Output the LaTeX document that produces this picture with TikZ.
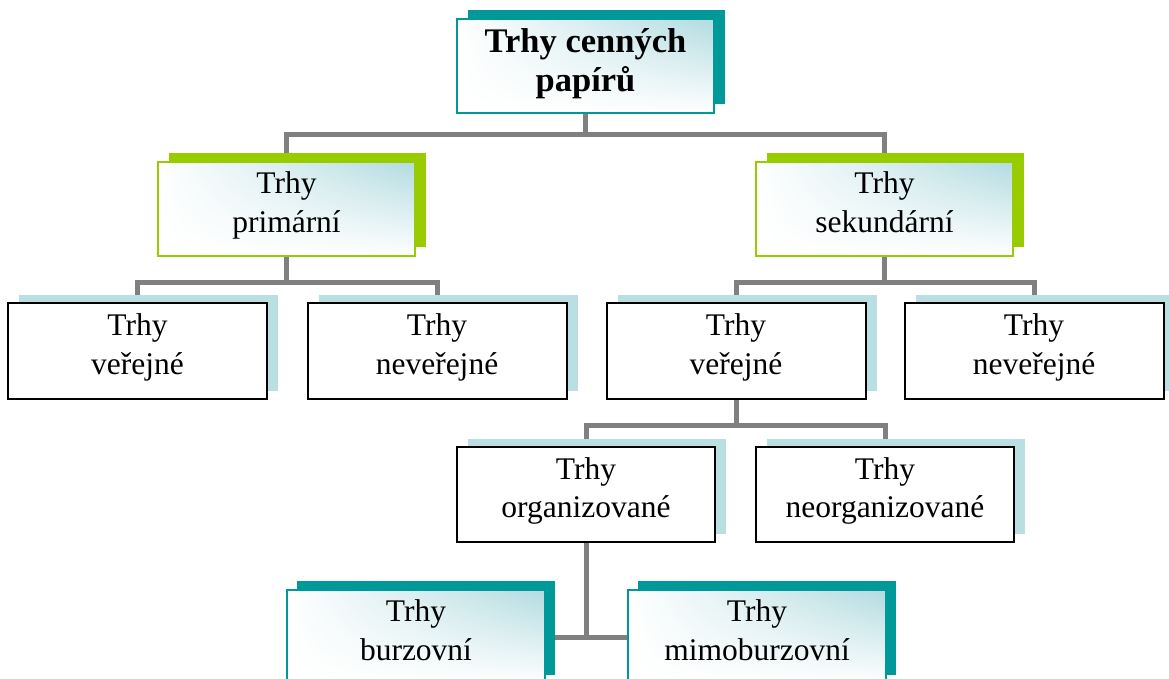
\documentclass[tikz,border=0pt]{standalone}
\usepackage{fontspec}
\setmainfont{Liberation Serif}
\usetikzlibrary{shadows,backgrounds,shadings}
\definecolor{tealsh}{HTML}{009999}
\definecolor{greensh}{HTML}{99CC00}
\definecolor{lbsh}{HTML}{B9DFE2}
\definecolor{lbgrad}{HTML}{B2DBE0}
\definecolor{conngray}{HTML}{808080}
\newlength\sth
\newlength\std
\newcommand\lnstrut{\rule[-\std]{0pt}{\dimexpr\sth+\std\relax}}
\tikzset{
  basebox/.style={rectangle, inner sep=0pt, align=center,
    minimum width=257pt, minimum height=94pt,
    font=\fontsize{31.5}{38.5}\selectfont,
    execute at begin node={\global\sth=23pt\global\std=15.5pt}},
  gradbox/.style={basebox, shade, upper right=lbgrad, upper left=white,
    lower left=white, lower right=white},
  titlebox/.style={gradbox, draw=tealsh, line width=1.5pt,
    general shadow={fill=tealsh, shadow xshift=11pt, shadow yshift=9pt},
    font=\fontsize{34.5}{39}\selectfont\bfseries,
    execute at begin node={\global\sth=26pt\global\std=13pt}},
  greenbox/.style={gradbox, draw=greensh, line width=1.5pt,
    general shadow={fill=greensh, shadow xshift=11pt, shadow yshift=9pt}},
  whitebox/.style={basebox, fill=white, draw=black, line width=2pt,
    minimum width=259pt, minimum height=96pt,
    general shadow={fill=lbsh, shadow xshift=11pt, shadow yshift=8pt}},
  tealbox/.style={gradbox, draw=tealsh, line width=1.5pt,
    general shadow={fill=tealsh, shadow xshift=10pt, shadow yshift=9pt}},
  conn/.style={draw=conngray, line width=5pt}
}
\begin{document}
\begin{tikzpicture}[x=1pt,y=-1pt]
\useasboundingbox (0,0) rectangle (1169,679);
\clip (0,0) rectangle (1169,679);
\node[titlebox] (t) at (585.5,66) {\lnstrut Trhy cenných\\\lnstrut papírů};
\node[greenbox] (p) at (286.5,209) {\lnstrut Trhy\\\lnstrut primární};
\node[greenbox] (s) at (884.5,209) {\lnstrut Trhy\\\lnstrut sekundární};
\node[whitebox] (v1) at (137.5,351) {\lnstrut Trhy\\\lnstrut veřejné};
\node[whitebox] (n1) at (437,351) {\lnstrut Trhy\\\lnstrut neveřejné};
\node[whitebox] (v2) at (736,351) {\lnstrut Trhy\\\lnstrut veřejné};
\node[whitebox] (n2) at (1034,351) {\lnstrut Trhy\\\lnstrut neveřejné};
\node[whitebox, minimum width=258pt, minimum height=95pt] (o) at (586,494.5) {\lnstrut Trhy\\\lnstrut organizované};
\node[whitebox, minimum width=258pt, minimum height=95pt] (no) at (885,494.5) {\lnstrut Trhy\\\lnstrut neorganizované};
\node[tealbox, minimum width=258pt] (b) at (416,637) {\lnstrut Trhy\\\lnstrut burzovní};
\node[tealbox, minimum width=258pt] (m) at (757,637) {\lnstrut Trhy\\\lnstrut mimoburzovní};
\begin{scope}[on background layer]
\draw[conn] (t.south) -- ++(0,21) -| (p.north);
\draw[conn] (t.south) -- ++(0,21) -| (s.north);
\draw[conn] (p.south) -- ++(0,26) -| (v1.north);
\draw[conn] (p.south) -- ++(0,26) -| (n1.north);
\draw[conn] (s.south) -- ++(0,26) -| (v2.north);
\draw[conn] (s.south) -- ++(0,26) -| (n2.north);
\draw[conn] (v2.south) -- ++(0,25) -| (o.north);
\draw[conn] (v2.south) -- ++(0,25) -| (no.north);
\draw[conn] (o.south) |- (b.east);
\draw[conn] (o.south) |- (m.west);
\end{scope}
\end{tikzpicture}
\end{document}
